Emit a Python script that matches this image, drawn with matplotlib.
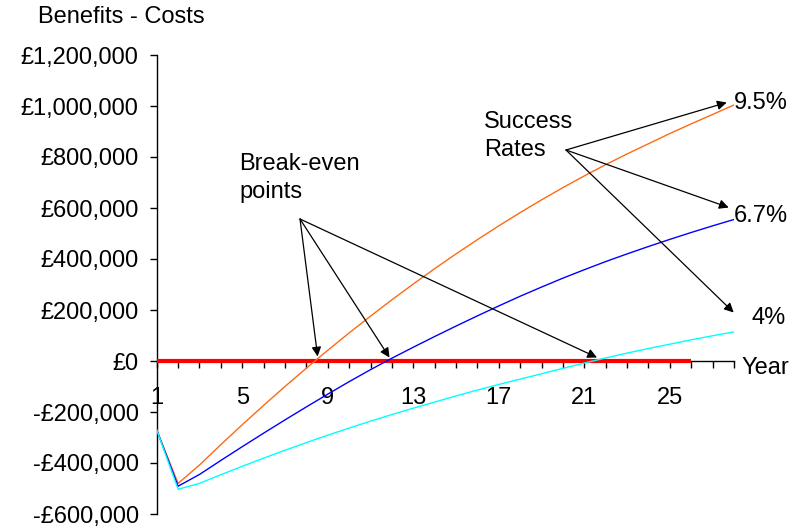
import numpy as np
import matplotlib.pyplot as plt
from matplotlib.ticker import FuncFormatter

plt.rcParams['font.family'] = ['Liberation Sans', 'DejaVu Sans']

# years and net benefit (benefits - costs) per success rate, in thousand pounds
years = np.arange(1, 29)
rate_95 = [-270, -480, -408, -328, -250, -174, -100, -28, 42, 110, 176, 240, 302, 362,
           420, 476, 530, 582, 632, 680, 726, 770, 812, 852, 892, 930, 967, 1004]
rate_67 = [-270, -491, -445, -390, -336, -283, -231, -180, -130, -81, -34, 11, 54, 96,
           137, 177, 216, 254, 290, 325, 358, 390, 420, 449, 477, 504, 530, 555]
rate_40 = [-270, -503, -480, -446, -413, -381, -350, -320, -291, -263, -236, -210, -185, -161,
           -137, -114, -92, -71, -50, -29, -8, 12, 31, 49, 66, 83, 99, 114]
rate_labels = ['9.5%', '6.7%', '4%']
breakeven_years = np.arange(1, 27)   # red zero line
tick_years = [1, 5, 9, 13, 17, 21, 25]

series = [np.array(rate_95) * 1000, np.array(rate_67) * 1000, np.array(rate_40) * 1000]
colors = ['#FF6A13', '#0000FF', '#00FFFF']

FS = 17
W, H = 798, 527
fig = plt.figure(figsize=(W / 100, H / 100), dpi=100)
ax = fig.add_axes([156.7 / W, 1 - 514 / H, (734 - 156.7) / W, (514 - 55) / H])

ax.plot(breakeven_years, np.zeros(len(breakeven_years)), color='#FF0000', lw=3,
        solid_capstyle='butt', zorder=2.7)
for s, c in zip(series, colors):
    ax.plot(years, s, color=c, lw=1.0, zorder=3)

ax.set_xlim(1, 28)
ax.set_ylim(-600000, 1200000)
ax.spines['top'].set_visible(False)
ax.spines['right'].set_visible(False)
ax.spines['bottom'].set_position(('data', 0))
ax.spines['left'].set_linewidth(1)
ax.spines['bottom'].set_linewidth(1)

ax.set_yticks(np.arange(-600000, 1200001, 200000))
ax.yaxis.set_major_formatter(FuncFormatter(lambda v, p: ('-£{:,.0f}' if v < 0 else '£{:,.0f}').format(abs(v))))
ax.set_xticks(years)
ax.set_xticklabels([str(y) if y in tick_years else '' for y in years])
ax.tick_params(axis='y', direction='out', length=5, width=1, pad=8, labelsize=FS)
ax.tick_params(axis='x', direction='out', length=5, width=1, pad=14, labelsize=FS)

fig.text(38 / W, 1 - 17 / H, 'Benefits - Costs', fontsize=FS, va='center', ha='left')
fig.text(742 / W, 1 - 368 / H, 'Year', fontsize=FS, va='center', ha='left')
label_pos = [(734, 103), (734, 216), (751, 318)]
for lab, (px, py) in zip(rate_labels, label_pos):
    fig.text(px / W, 1 - py / H, lab, fontsize=FS, va='center', ha='left')

fig.text(239 / W, 1 - 178 / H, 'Break-even\npoints', fontsize=FS, va='center', ha='left', linespacing=1.4)
fig.text(484 / W, 1 - 136 / H, 'Success\nRates', fontsize=FS, va='center', ha='left', linespacing=1.4)


def px2data(px, py):
    return 1 + (px - 156.7) / 21.43, (361.5 - py) * 3921.6


arrow = dict(arrowstyle='-|>', color='black', lw=0.9, mutation_scale=14, shrinkA=0, shrinkB=0)
for tip in [(318, 357), (390, 358), (598, 358)]:
    ax.annotate('', xy=px2data(*tip), xytext=(300, H - 219), textcoords='figure pixels',
                arrowprops=arrow, annotation_clip=False, zorder=4)
for tip in [(728, 103), (730, 208), (735, 313)]:
    ax.annotate('', xy=px2data(*tip), xytext=(566, H - 150), textcoords='figure pixels',
                arrowprops=arrow, annotation_clip=False, zorder=4)

plt.savefig('out.png', dpi=100)
